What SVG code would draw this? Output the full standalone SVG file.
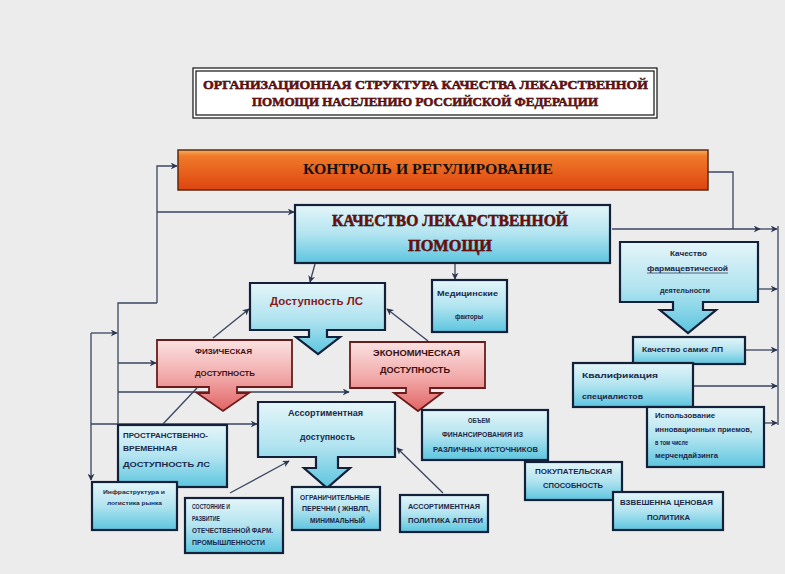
<svg xmlns="http://www.w3.org/2000/svg" width="785" height="574" viewBox="0 0 785 574">
<defs>
<linearGradient id="cy" x1="0" y1="0" x2="0" y2="1"><stop offset="0" stop-color="#e4f5f9"/><stop offset="0.5" stop-color="#b2e4f0"/><stop offset="1" stop-color="#5cc5df"/></linearGradient>
<linearGradient id="pk" x1="0" y1="0" x2="0" y2="1"><stop offset="0" stop-color="#fbe2e2"/><stop offset="0.5" stop-color="#f2abab"/><stop offset="1" stop-color="#e26464"/></linearGradient>
<linearGradient id="or" x1="0" y1="0" x2="0" y2="1"><stop offset="0" stop-color="#f6b060"/><stop offset="0.15" stop-color="#f07a28"/><stop offset="1" stop-color="#de4410"/></linearGradient>
<marker id="ar" viewBox="0 0 10 10" refX="9" refY="5" markerWidth="7" markerHeight="7" orient="auto" markerUnits="userSpaceOnUse"><path d="M0,0 L10,5 L0,10 L3,5 Z" fill="#2a3550"/></marker>
</defs>
<style>
.cb{fill:url(#cy);stroke:#13203a;stroke-width:2.2}
.pb{fill:url(#pk);stroke:#6a1c1c;stroke-width:1.8}
.ln{fill:none;stroke:#3a4560;stroke-width:1.3}
.la{fill:none;stroke:#3a4560;stroke-width:1.3;marker-end:url(#ar)}
.ttl{font-family:"Liberation Serif",serif;font-weight:bold;fill:#6e0c0c;stroke:#000;stroke-width:0.5;paint-order:stroke}
.s{font-family:"Liberation Sans",Arial,sans-serif;font-weight:bold;fill:#1b2848}
.r{font-family:"Liberation Sans",Arial,sans-serif;font-weight:bold;fill:#3a1010}
</style>
<rect x="0" y="0" width="785" height="574" fill="#ececec"/>

<g id="title">
<rect x="193" y="68" width="464" height="50" fill="#ffffff" stroke="#111" stroke-width="1.2"/>
<rect x="196" y="71" width="458" height="44" fill="none" stroke="#111" stroke-width="1.2"/>
<text class="ttl" x="203" y="89" font-size="13" textLength="445" lengthAdjust="spacingAndGlyphs">ОРГАНИЗАЦИОННАЯ  СТРУКТУРА КАЧЕСТВА ЛЕКАРСТВЕННОЙ</text>
<text class="ttl" x="252" y="106" font-size="13" textLength="346" lengthAdjust="spacingAndGlyphs">ПОМОЩИ НАСЕЛЕНИЮ РОССИЙСКОЙ ФЕДЕРАЦИИ</text>
</g>

<g id="connectors">
<polyline class="la" points="157,303 157,166 177,166"/>
<line class="la" x1="157" y1="212" x2="294" y2="212"/>
<polyline class="ln" points="157,303 118,303 118,425"/>
<line class="la" x1="118" y1="363" x2="156" y2="363"/>
<line class="la" x1="118" y1="392" x2="349" y2="392"/>
<line class="la" x1="91" y1="333" x2="91" y2="480"/>
<line class="la" x1="91" y1="333" x2="117" y2="333"/>
<line class="la" x1="91" y1="424" x2="257" y2="424"/>
<line class="ln" x1="163" y1="424" x2="197" y2="388"/>
<line class="la" x1="213" y1="338" x2="249" y2="309"/>
<line class="la" x1="428" y1="341" x2="387" y2="309"/>
<line class="la" x1="315" y1="264" x2="310" y2="282"/>
<line class="la" x1="455" y1="264" x2="455" y2="279"/>
<polyline class="ln" points="708,172 733,172 733,229"/>
<line class="la" x1="612" y1="229" x2="760" y2="229"/>
<line class="la" x1="760" y1="229" x2="777" y2="229"/>
<line class="ln" x1="778" y1="226" x2="778" y2="425"/>
<line class="la" x1="759" y1="289" x2="777" y2="289"/>
<line class="la" x1="746" y1="350" x2="777" y2="350"/>
<line class="la" x1="693" y1="386" x2="777" y2="386"/>
<line class="la" x1="765" y1="423" x2="777" y2="423"/>
<line class="la" x1="230" y1="493" x2="289" y2="461"/>
<line class="la" x1="443" y1="493" x2="397" y2="448"/>
</g>

<g id="control">
<rect x="178" y="150" width="530" height="40" fill="url(#or)" stroke="#5a2a10" stroke-width="1.5"/>
<text x="303" y="174" font-family="Liberation Serif,serif" font-weight="bold" font-size="15" fill="#111" textLength="250" lengthAdjust="spacingAndGlyphs">КОНТРОЛЬ И РЕГУЛИРОВАНИЕ</text>
</g>

<g id="quality">
<rect class="cb" x="295" y="205" width="315" height="58"/>
<text class="ttl" x="332" y="226" font-size="17" textLength="236" lengthAdjust="spacingAndGlyphs">КАЧЕСТВО ЛЕКАРСТВЕННОЙ</text>
<text class="ttl" x="408" y="251" font-size="17" textLength="84" lengthAdjust="spacingAndGlyphs">ПОМОЩИ</text>
</g>

<g id="availability">
<path class="cb" d="M250,283 H385 V330 H327 V337 H340 L318,354 L296,337 H309 V330 H250 Z"/>
<text x="270" y="305" font-family="Liberation Sans,Arial,sans-serif" font-weight="bold" font-size="11.5" fill="#8a1a1a" textLength="93" lengthAdjust="spacingAndGlyphs">Доступность ЛС</text>
</g>

<g id="medical">
<rect class="cb" x="432" y="280" width="75" height="52"/>
<text class="s" x="437" y="296" font-size="7" textLength="61" lengthAdjust="spacingAndGlyphs">Медицинские</text>
<text class="s" x="455" y="319" font-size="7" textLength="28" lengthAdjust="spacingAndGlyphs">факторы</text>
</g>

<g id="physical">
<path class="pb" d="M157,340 H292 V387 H237 V393 H249 L223,411 L197,393 H209 V387 H157 Z"/>
<text class="r" x="195" y="354" font-size="7.5" textLength="57" lengthAdjust="spacingAndGlyphs">ФИЗИЧЕСКАЯ</text>
<text class="r" x="195" y="376" font-size="7.5" textLength="60" lengthAdjust="spacingAndGlyphs">ДОСТУПНОСТЬ</text>
</g>

<g id="economic">
<path class="pb" d="M350,342 H485 V388 H430 V393 H442 L418,411 L394,393 H406 V388 H350 Z"/>
<text class="r" x="373" y="356" font-size="8.5" textLength="87" lengthAdjust="spacingAndGlyphs">ЭКОНОМИЧЕСКАЯ</text>
<text class="r" x="380" y="373" font-size="8.5" textLength="70" lengthAdjust="spacingAndGlyphs">ДОСТУПНОСТЬ</text>
</g>

<g id="assortment">
<path class="cb" d="M258,402 H395 V457 H338 V468 H350 L327,488 L304,468 H316 V457 H258 Z"/>
<text class="s" x="288" y="416" font-size="8.5" textLength="75" lengthAdjust="spacingAndGlyphs">Ассортиментная</text>
<text class="s" x="300" y="440" font-size="8.5" textLength="55" lengthAdjust="spacingAndGlyphs">доступность</text>
</g>

<g id="spatial">
<rect class="cb" x="118" y="425" width="109" height="62"/>
<text class="s" x="123" y="438" font-size="7.5" textLength="85" lengthAdjust="spacingAndGlyphs">ПРОСТРАНСТВЕННО-</text>
<text class="s" x="123" y="451" font-size="7.5" textLength="54" lengthAdjust="spacingAndGlyphs">ВРЕМЕННАЯ</text>
<text class="s" x="123" y="467" font-size="7.5" textLength="87" lengthAdjust="spacingAndGlyphs">ДОСТУПНОСТЬ  ЛС</text>
</g>

<g id="infra">
<rect class="cb" x="92" y="482" width="85" height="48"/>
<text class="s" x="103" y="494" font-size="6" textLength="62" lengthAdjust="spacingAndGlyphs">Инфраструктура и</text>
<text class="s" x="107" y="505" font-size="6" textLength="55" lengthAdjust="spacingAndGlyphs">логистика рынка</text>
</g>

<g id="industry">
<rect class="cb" x="185" y="498" width="98" height="55"/>
<text class="s" x="192" y="509" font-size="6.5" textLength="38" lengthAdjust="spacingAndGlyphs">СОСТОЯНИЕ И</text>
<text class="s" x="192" y="521" font-size="6.5" textLength="28" lengthAdjust="spacingAndGlyphs">РАЗВИТИЕ</text>
<text class="s" x="192" y="533" font-size="6.5" textLength="81" lengthAdjust="spacingAndGlyphs">ОТЕЧЕСТВЕННОЙ ФАРМ.</text>
<text class="s" x="192" y="545" font-size="6.5" textLength="73" lengthAdjust="spacingAndGlyphs">ПРОМЫШЛЕННОСТИ</text>
</g>

<g id="lists">
<rect class="cb" x="292" y="487" width="88" height="43"/>
<text class="s" x="300" y="500" font-size="6.5" textLength="70" lengthAdjust="spacingAndGlyphs">ОГРАНИЧИТЕЛЬНЫЕ</text>
<text class="s" x="302" y="511" font-size="6.5" textLength="68" lengthAdjust="spacingAndGlyphs">ПЕРЕЧНИ ( ЖНВЛП,</text>
<text class="s" x="310" y="523" font-size="6.5" textLength="55" lengthAdjust="spacingAndGlyphs">МИНИМАЛЬНЫЙ</text>
</g>

<g id="pharmacy-policy">
<rect class="cb" x="400" y="495" width="88" height="37"/>
<text class="s" x="408" y="509" font-size="6.5" textLength="72" lengthAdjust="spacingAndGlyphs">АССОРТИМЕНТНАЯ</text>
<text class="s" x="408" y="523" font-size="6.5" textLength="75" lengthAdjust="spacingAndGlyphs">ПОЛИТИКА АПТЕКИ</text>
</g>

<g id="funding">
<rect class="cb" x="422" y="410" width="126" height="50"/>
<text class="s" x="468" y="423" font-size="6.5" textLength="22" lengthAdjust="spacingAndGlyphs">ОБЪЕМ</text>
<text class="s" x="442" y="437" font-size="6.5" textLength="81" lengthAdjust="spacingAndGlyphs">ФИНАНСИРОВАНИЯ ИЗ</text>
<text class="s" x="433" y="452" font-size="6.5" textLength="105" lengthAdjust="spacingAndGlyphs">РАЗЛИЧНЫХ ИСТОЧНИКОВ</text>
</g>

<g id="purchasing">
<rect class="cb" x="525" y="462" width="97" height="38"/>
<text class="s" x="535" y="474" font-size="6.5" textLength="77" lengthAdjust="spacingAndGlyphs">ПОКУПАТЕЛЬСКАЯ</text>
<text class="s" x="543" y="488" font-size="6.5" textLength="60" lengthAdjust="spacingAndGlyphs">СПОСОБНОСТЬ</text>
</g>

<g id="pricing">
<rect class="cb" x="613" y="492" width="110" height="38"/>
<text class="s" x="620" y="505" font-size="7" textLength="93" lengthAdjust="spacingAndGlyphs">ВЗВЕШЕННА ЦЕНОВАЯ</text>
<text class="s" x="647" y="520" font-size="7" textLength="43" lengthAdjust="spacingAndGlyphs">ПОЛИТИКА</text>
</g>

<g id="pharm-activity">
<path class="cb" stroke-width="3" d="M620,242 H758 V302 H703 V310 H716 L688,333 L660,310 H673 V302 H620 Z"/>
<text class="s" x="670" y="256" font-size="6.5" textLength="37" lengthAdjust="spacingAndGlyphs">Качество</text>
<text class="s" x="647" y="271" font-size="6.5" textLength="81" lengthAdjust="spacingAndGlyphs">фармацевтической</text>
<line x1="647" y1="273" x2="728" y2="273" stroke="#1b2848" stroke-width="0.7"/>
<text class="s" x="660" y="293" font-size="6.5" textLength="50" lengthAdjust="spacingAndGlyphs">деятельности</text>
</g>

<g id="drug-quality">
<rect class="cb" x="633" y="337" width="112" height="27"/>
<text class="s" x="642" y="352" font-size="7" textLength="81" lengthAdjust="spacingAndGlyphs">Качество самих  ЛП</text>
</g>

<g id="qualification">
<rect class="cb" x="573" y="363" width="120" height="44"/>
<text class="s" x="582" y="378" font-size="7" textLength="76" lengthAdjust="spacingAndGlyphs">Квалификация</text>
<text class="s" x="582" y="399" font-size="7" textLength="61" lengthAdjust="spacingAndGlyphs">специалистов</text>
</g>

<g id="innovation">
<rect class="cb" x="647" y="407" width="117" height="60"/>
<text class="s" x="655" y="418" font-size="6.5" textLength="60" lengthAdjust="spacingAndGlyphs">Использование</text>
<text class="s" x="655" y="432" font-size="6.5" textLength="97" lengthAdjust="spacingAndGlyphs">инновационных приемов,</text>
<text class="s" x="655" y="445" font-size="6.5" textLength="33" lengthAdjust="spacingAndGlyphs">в том числе</text>
<text class="s" x="655" y="458" font-size="6.5" textLength="63" lengthAdjust="spacingAndGlyphs">мерчендайзинга</text>
</g>
</svg>
